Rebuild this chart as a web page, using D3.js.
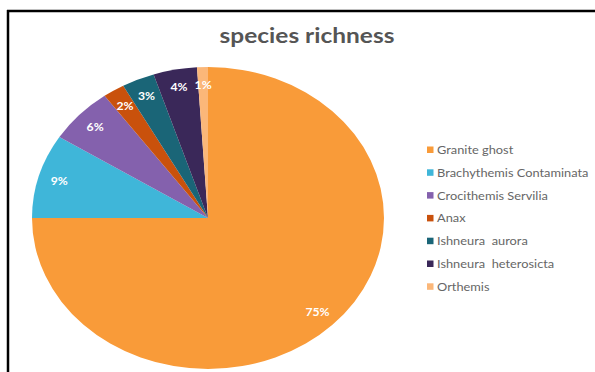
<!DOCTYPE html>
<html>
<head>
<meta charset="utf-8">
<script src="https://cdn.jsdelivr.net/npm/d3@7"></script>
<style>
  body { margin: 0; background: #fff; }
  svg { display: block; font-family: Lato, "Open Sans", sans-serif; }
</style>
</head>
<body>
<div id="chart-area"></div>
<script>
// Data
const species = ["Granite ghost", "Brachythemis Contaminata", "Crocithemis Servilia", "Anax",
	"Ishneura  aurora", "Ishneura  heterosicta", "Orthemis"];
const percents = [75, 9, 6, 2, 3, 4, 1];
const colors = ["#f99b39", "#3fb6d9", "#8461ad", "#c9510c", "#1a6577", "#3a2859", "#fbb779"];

// SVG size
let width = 595,
	height = 372;

// the original picture is stretched sideways
const stretch = 176 / 151;
const cx = 208, cy = 218, radius = 151;

let svg = d3.select("#chart-area")
	.append("svg")
	.attr("width", width)
	.attr("height", height);

// frame (top and left lines only are visible)
svg.append("line")
	.attr("x1", 7).attr("x2", width).attr("y1", 11).attr("y2", 11)
	.style("stroke", "#000").style("stroke-width", 2.5);
svg.append("line")
	.attr("x1", 8).attr("x2", 8).attr("y1", 10).attr("y2", height)
	.style("stroke", "#000").style("stroke-width", 2.5);

// Title
svg.append("text")
	.attr("transform", "translate(307,43) scale(" + stretch + ",1)")
	.attr("text-anchor", "middle")
	.style("font-size", "21px")
	.style("font-weight", "bold")
	.style("fill", "#555")
	.text("species richness");

// Pie
const pie = d3.pie().sort(null).value(d => d);
const arcs = pie(percents);

const arc = d3.arc().innerRadius(0).outerRadius(radius);
const labelArc = d3.arc().innerRadius(radius * 0.88).outerRadius(radius * 0.88);

let pieGroup = svg.append("g")
	.attr("transform", "translate(" + cx + "," + cy + ") scale(" + stretch + ",1)");

pieGroup.selectAll("path")
	.data(arcs)
	.enter()
	.append("path")
	.attr("d", arc)
	.style("fill", (d, i) => colors[i]);

// Percent labels
svg.selectAll("text.pct")
	.data(arcs)
	.enter()
	.append("text")
	.attr("class", "pct")
	.attr("transform", d => {
		const c = labelArc.centroid(d);
		return "translate(" + (cx + c[0] * stretch) + "," + (cy + c[1] + 4) + ") scale(" + stretch + ",1)";
	})
	.attr("text-anchor", "middle")
	.style("font-size", "10.5px")
	.style("font-weight", "bold")
	.style("fill", "#fff")
	.text(d => d.data + "%");

// Legend
const legendX = 427, legendY = 150, legendStep = 22.8;

let legend = svg.selectAll("g.legend")
	.data(species)
	.enter()
	.append("g")
	.attr("class", "legend")
	.attr("transform", (d, i) => "translate(" + legendX + "," + (legendY + i * legendStep) + ")");

legend.append("rect")
	.attr("x", 0).attr("y", -3.5)
	.attr("width", 6.5).attr("height", 6.5)
	.style("fill", (d, i) => colors[i]);

legend.append("text")
	.attr("transform", "translate(10,4) scale(" + stretch + ",1)")
	.style("font-size", "11px")
	.style("fill", "#666")
	.style("white-space", "pre")
	.text(d => d);
</script>
</body>
</html>
